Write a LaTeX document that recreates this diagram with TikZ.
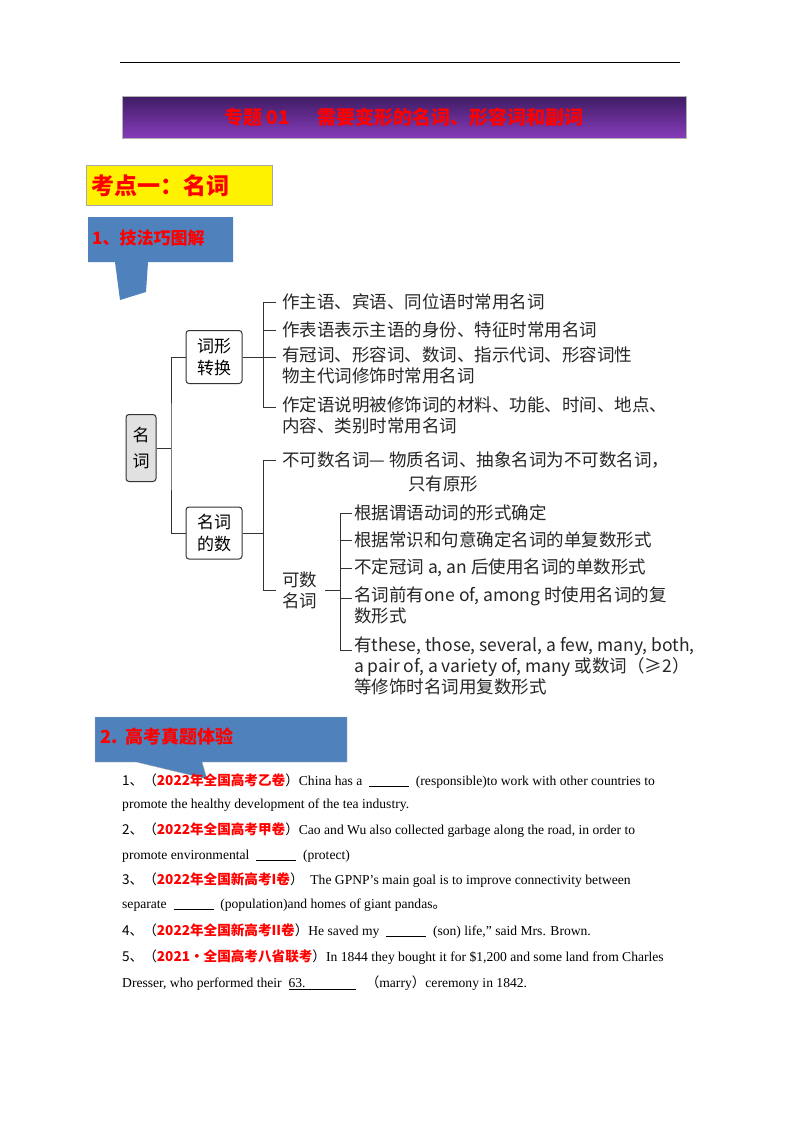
\documentclass[tikz,border=0pt]{standalone}
\usepackage{fontspec}
\setmainfont{Liberation Serif}
\newfontfamily\cj{Noto Sans CJK SC}
\usetikzlibrary{calc}
\definecolor{cbblue}{RGB}{79,129,189}
\definecolor{tgray}{RGB}{225,225,225}
\tikzset{
  tbox/.style={draw=black!80,line width=1pt,rounded corners=3pt,align=center,inner sep=0pt,font=\cj\fontsize{17}{22}\selectfont},
  tx/.style={anchor=west,inner sep=0pt,align=left,font=\cj\fontsize{17.5}{21}\selectfont,text=black!85},
  br/.style={line width=0.9pt,black!80},
  q/.style={anchor=west,inner sep=0pt,font=\fontsize{13.6}{16}\selectfont},
}
\newcommand{\rd}[1]{\textcolor{red}{\bfseries #1}}
\newcommand{\rc}[1]{\textcolor{red}{\cj\bfseries #1}}
\newcommand{\blk}{\rule[-2pt]{40pt}{1.2pt}}
\begin{document}
\begin{tikzpicture}[x=1pt,y=-1pt]
\useasboundingbox[fill=white] (0,0) rectangle (800,1132);
% top rule
\draw[line width=1pt] (120,63) -- (680,63);
% title bar
\node[draw=gray!60,top color={rgb,255:red,62;green,28;blue,100},bottom color={rgb,255:red,135;green,60;blue,185},minimum width=564pt,minimum height=42pt,inner sep=0pt] (title) at (404,117) {};
\node[text=red,font=\cj\bfseries\fontsize{19}{22}\selectfont] (titletext) at (title) {专题 01\hspace{28pt}需要变形的名词、形容词和副词};
% yellow box
\node[draw=gray!70,fill=yellow,minimum width=186pt,minimum height=40pt,anchor=north west,inner sep=0pt] (kd) at (86,165) {};
\node[anchor=west,text=red,font=\cj\bfseries\fontsize{23}{26}\selectfont,inner sep=0pt] (kdt) at (91,186) {考点一：名词};
% callout 1
\fill[cbblue] (88,217) -- (233,217) -- (233,262) -- (148,262) -- (146,292) -- (120,300) -- (115,262) -- (88,262) -- cycle;
\node[anchor=west,text=red,font=\cj\bfseries\fontsize{17}{20}\selectfont,inner sep=0pt] (c1) at (92,238) {1、技法巧图解};
% tree
\node[tbox,fill=tgray,minimum width=30pt,minimum height=67pt] (root) at (141,448) {名\\[4pt]词};
\node[tbox,fill=white,minimum width=56pt,minimum height=53pt] (cx) at (214,357) {词形\\转换};
\node[tbox,fill=white,minimum width=56pt,minimum height=52pt] (ms) at (214,533) {名词\\的数};
\coordinate (t1) at (171,448);
\draw[br] (root.east) -- (t1);
\draw[br] (cx.west) -| (t1) |- (ms.west);
% branch 1
\node[tx] (a1) at (282,302) {作主语、宾语、同位语时常用名词};
\node[tx] (a2) at (282,330) {作表语表示主语的身份、特征时常用名词};
\node[tx,anchor=north west] (a3) at (282,346) {有冠词、形容词、数词、指示代词、形容词性\\物主代词修饰时常用名词};
\node[tx,anchor=north west] (a4) at (282,396) {作定语说明被修饰词的材料、功能、时间、地点、\\内容、类别时常用名词};
\coordinate (v1) at (263,357);
\draw[br] (cx.east) -- (v1);
\draw[br] (276,302) -| (263,407) -- (276,407);
\draw[br] (263,330) -- (276,330);
\draw[br] (263,357) -- (276,357);
% branch 2
\node[tx] (b1) at (282,460) {不可数名词—\hspace{4pt}物质名词、抽象名词为不可数名词，};
\node[tx] (b1b) at (408,484) {只有原形};
\node[tx,anchor=north west] (b2) at (282,572) {可数\\名词};
\draw[br] (ms.east) -- (263,533);
\draw[br] (276,460) -| (263,590) -- (276,590);
\coordinate (v2) at (340,590);
\draw[br] (325,590) -- (v2);
\node[tx] (c1n) at (354,513) {根据谓语动词的形式确定};
\node[tx] (c2n) at (354,540) {根据常识和句意确定名词的单复数形式};
\node[tx] (c3n) at (354,568) {不定冠词 a, an 后使用名词的单数形式};
\node[tx,anchor=north west] (c4n) at (354,587) {名词前有one of, among 时使用名词的复\\数形式};
\node[tx,anchor=north west] (c5n) at (354,637) {有these, those, several, a few, many, both,\\a pair of, a variety of, many 或数词（≥2）\\等修饰时名词用复数形式};
\draw[br] (352,513) -| (340,650) -- (352,650);
\draw[br] (340,540) -- (352,540);
\draw[br] (340,568) -- (352,568);
\draw[br] (340,598) -- (352,598);
% callout 2
\fill[cbblue,draw=gray!60] (95,717) -- (347,717) -- (347,762) -- (202,762) -- (207,779) -- (136,762) -- (95,762) -- cycle;
\node[anchor=west,text=red,font=\cj\bfseries\fontsize{18}{20}\selectfont,inner sep=0pt] (c2) at (100,737) {2.\hspace{8pt}高考真题体验};
% questions
\node[q] (q1) at (122,781) {{\cj 1、（}\rc{2022年全国高考乙卷}{\cj ）}China has a \ \blk\ \ (responsible)to work with other countries to};
\node[q] (q1b) at (122,805) {promote the healthy development of the tea industry.};
\node[q] (q2) at (122,830) {{\cj 2、（}\rc{2022年全国高考甲卷}{\cj ）}Cao and Wu also collected garbage along the road, in order to};
\node[q] (q2b) at (122,856) {promote environmental \ \blk\ \ (protect)};
\node[q] (q3) at (122,880) {{\cj 3、（}\rc{2022年全国新高考I卷}{\cj ）}\ \ The GPNP’s main goal is to improve connectivity between};
\node[q] (q3b) at (122,905) {separate \ \blk\ \ (population)and homes of giant pandas{\cj 。}};
\node[q] (q4) at (122,931) {{\cj 4、（}\rc{2022年全国新高考II卷}{\cj ）}He saved my \ \blk\ \ (son) life," said Mrs. Brown.};
\node[q] (q5) at (122,957) {{\cj 5、（}\rc{2021·全国高考八省联考}{\cj ）}In 1844 they bought it for \$1,200 and some land from Charles};
\node[q] (q5b) at (122,983) {Dresser, who performed their \ \underline{63.\hspace{50pt}}\ \ \ {\cj （}marry{\cj ）}ceremony in 1842.};
\end{tikzpicture}
\end{document}
